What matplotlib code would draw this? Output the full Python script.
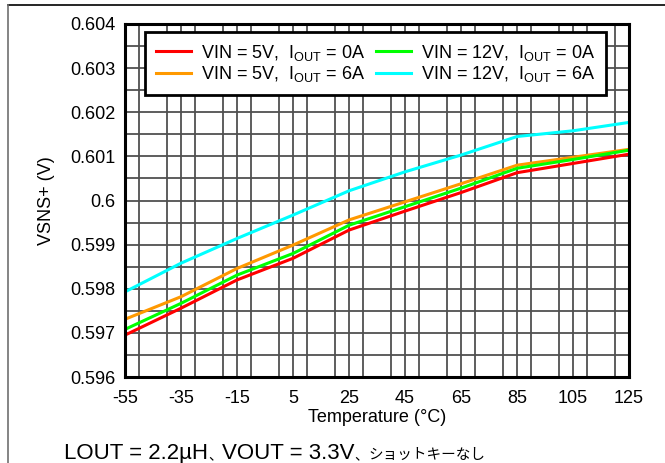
import matplotlib
matplotlib.use("Agg")
import matplotlib.pyplot as plt
from matplotlib.lines import Line2D
from matplotlib.ticker import MultipleLocator
import numpy as np

plt.rcParams['font.family'] = ['Liberation Sans', 'Noto Sans CJK JP', 'DejaVu Sans']
plt.rcParams['mathtext.default'] = 'regular'
plt.rcParams['axes.unicode_minus'] = False

# Data
temps = [-55, -35, -15, 5, 25, 45, 65, 85, 105, 125]
vsns_5v_0a = [0.59695, 0.59756, 0.59820, 0.59869, 0.59933, 0.59976, 0.60018, 0.60063, 0.60084, 0.60105]
vsns_12v_0a = [0.59708, 0.59767, 0.59831, 0.59880, 0.59944, 0.59986, 0.60028, 0.60073, 0.60093, 0.60114]
vsns_5v_6a = [0.59731, 0.59782, 0.59846, 0.59899, 0.59956, 0.59997, 0.60038, 0.60080, 0.60098, 0.60116]
vsns_12v_6a = [0.59793, 0.59858, 0.59914, 0.59967, 0.60022, 0.60065, 0.60103, 0.60145, 0.60158, 0.60177]

x_ticks = [-55, -35, -15, 5, 25, 45, 65, 85, 105, 125]
y_ticks = [0.596, 0.597, 0.598, 0.599, 0.6, 0.601, 0.602, 0.603, 0.604]
y_ticklabels = ["0.596", "0.597", "0.598", "0.599", "0.6", "0.601", "0.602", "0.603", "0.604"]

series = [
    (vsns_5v_0a, '#FF0000', r'VIN = 5V,  $I_{OUT}$ = 0A'),
    (vsns_5v_6a, '#FF9900', r'VIN = 5V,  $I_{OUT}$ = 6A'),
    (vsns_12v_0a, '#00FF00', r'VIN = 12V,  $I_{OUT}$ = 0A'),
    (vsns_12v_6a, '#00FFFF', r'VIN = 12V,  $I_{OUT}$ = 6A'),
]

# footnote pieces: (text, font size)
note_parts = [("LOUT = 2.2µH", 16), ("、", 10), ("VOUT = 3.3V", 16), ("、", 10), ("ショットキーなし", 10.5)]

fs = 13

fig = plt.figure(figsize=(6.65, 4.63), dpi=100)
ax = fig.add_axes([0.188, 0.1857, 0.758, 0.7625])

for vals, color, label in series:
    ax.plot(temps, vals, color=color, lw=2.2, label=label, zorder=3)

ax.set_xlim(-55, 125)
ax.set_ylim(0.596, 0.604)
ax.set_xticks(x_ticks)
ax.set_yticks(y_ticks)
ax.set_yticklabels(y_ticklabels)
ax.xaxis.set_minor_locator(MultipleLocator(10))
ax.yaxis.set_minor_locator(MultipleLocator(0.0005))
ax.grid(True, which='both', color='#505050', lw=1.3)
ax.tick_params(which='both', length=0, labelsize=fs)
ax.tick_params(axis='y', pad=7)
ax.tick_params(axis='x', pad=9)
for sp in ax.spines.values():
    sp.set_linewidth(2.2)
    sp.set_zorder(4)

ax.set_xlabel('Temperature (°C)', fontsize=fs, labelpad=2)
ax.set_ylabel('VSNS+ (V)', fontsize=fs, labelpad=11)

# legend order: column 1 = 5V, column 2 = 12V
leg = ax.legend(ncol=2, loc='upper center', bbox_to_anchor=(0.497, 1.003),
                fontsize=fs, frameon=True, fancybox=False, framealpha=1,
                edgecolor='black', handlelength=1.95, handletextpad=0.55,
                columnspacing=0.6, borderpad=0.6, labelspacing=0.08)
leg.get_frame().set_linewidth(2.0)
leg.set_zorder(5)

# footnote, Latin text larger than the Japanese text
renderer = fig.canvas.get_renderer()
x_px = 64
for txt, size in note_parts:
    t = fig.text(x_px / 665, 0.009, txt, fontsize=size, va='baseline')
    x_px = t.get_window_extent(renderer).x1

# outer frame lines (top and left)
fig.add_artist(Line2D([8 / 665, 1], [1 - 5 / 463, 1 - 5 / 463], transform=fig.transFigure, color='black', lw=1.2))
fig.add_artist(Line2D([8 / 665, 8 / 665], [0, 1 - 5 / 463], transform=fig.transFigure, color='#707070', lw=1.2))

fig.savefig('out.png', dpi=100)
